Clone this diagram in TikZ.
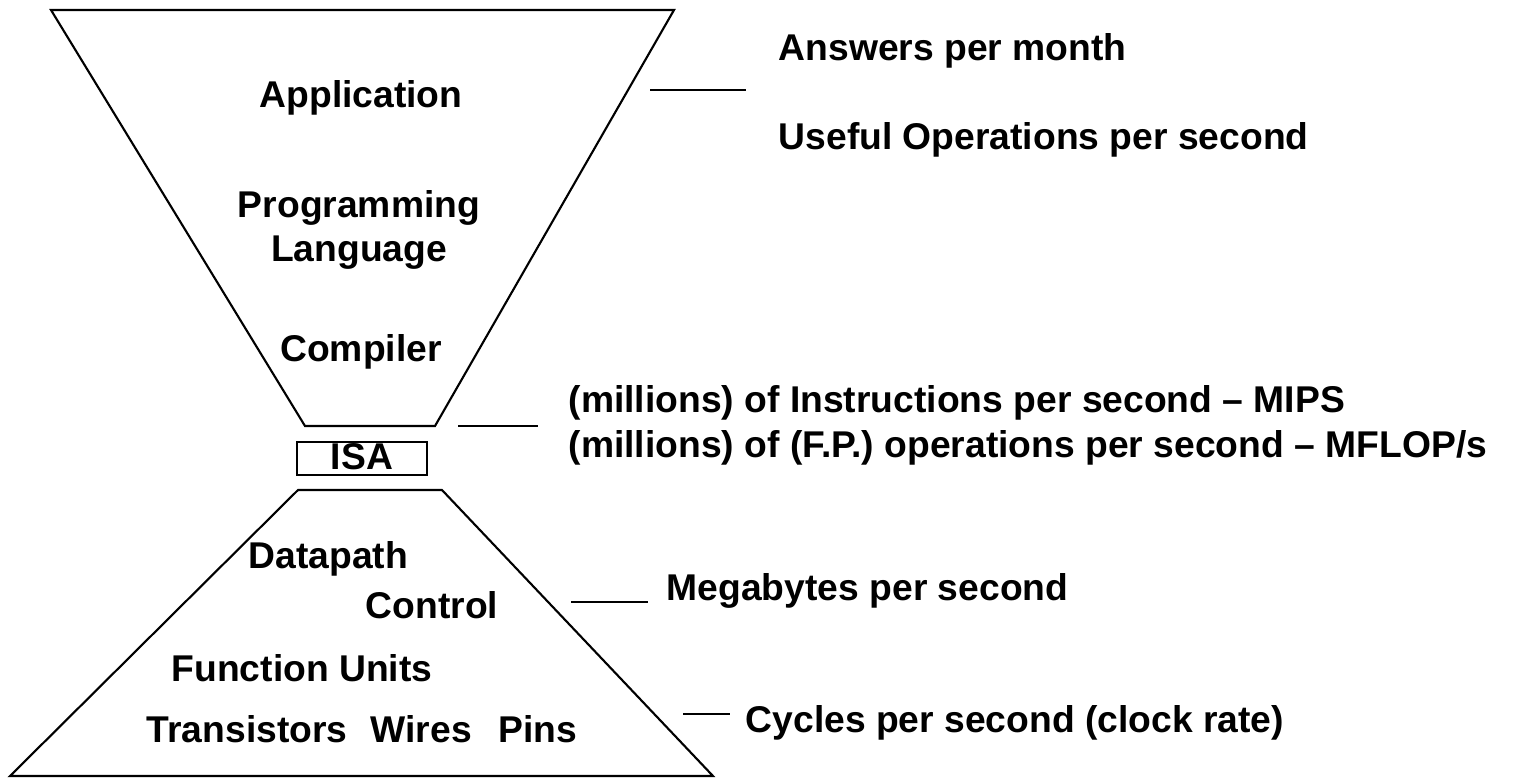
\documentclass[tikz,border=0pt]{standalone}
\usepackage{fontspec}
\setmainfont{Liberation Sans}
\begin{document}
\begin{tikzpicture}[x=0.1mm, y=-0.1mm,
txt/.style={font=\bfseries\fontsize{10.6}{12.6}\selectfont, inner sep=0pt},
lefttxt/.style={txt, anchor=base west},
midtxt/.style={txt, anchor=base},
funnel/.style={draw=black, line width=0.6pt, line join=miter},
isabox/.style={txt, draw=black, line width=0.6pt, minimum width=13mm, minimum height=3.3mm, text depth=0.4mm},
measure/.style={draw=black, line width=0.8pt},
]
\useasboundingbox (0,0) rectangle (1514,778);

%Shapes
\draw[funnel] (51,10) -- (674,10) -- (435,426) -- (305,426) -- cycle;
\draw[funnel] (298,490) -- (442,490) -- (713,776) -- (10,776) -- cycle;

%Nodes
\node[midtxt] (app) at (361,107) {Application};
\node[txt, align=center] (proglang) at (359,230) {Programming\\Language};
\node[midtxt] (compiler) at (361,361) {Compiler};
\node[isabox] (isa) at (362,458.5) {ISA};
\node[lefttxt] (datapath) at (248,568) {Datapath};
\node[lefttxt] (control) at (365,618) {Control};
\node[lefttxt] (funits) at (171,681) {Function Units};
\node[lefttxt] (transistors) at (146,742) {Transistors};
\node[lefttxt] (wires) at (370,742) {Wires};
\node[lefttxt] (pins) at (498,742) {Pins};

\node[lefttxt] (answers) at (778,60) {Answers per month};
\node[lefttxt] (useful) at (778,149) {Useful Operations per second};
\node[lefttxt] (mips) at (568,412) {(millions) of Instructions per second -- MIPS};
\node[lefttxt] (mflops) at (568,457) {(millions) of (F.P.) operations per second -- MFLOP/s};
\node[lefttxt] (mbytes) at (666,600) {Megabytes per second};
\node[lefttxt] (cycles) at (745,732) {Cycles per second (clock rate)};

%Lines
\coordinate (appL) at (650,90);
\coordinate (appR) at (746,90);
\coordinate (isaL) at (458,426);
\coordinate (isaR) at (538,426);
\coordinate (ctlL) at (571,602);
\coordinate (ctlR) at (648,602);
\coordinate (pinL) at (683,714);
\coordinate (pinR) at (730,714);
\draw[measure] (appL) -- (appR);
\draw[measure] (isaL) -- (isaR);
\draw[measure] (ctlL) -- (ctlR);
\draw[measure] (pinL) -- (pinR);
\end{tikzpicture}
\end{document}
